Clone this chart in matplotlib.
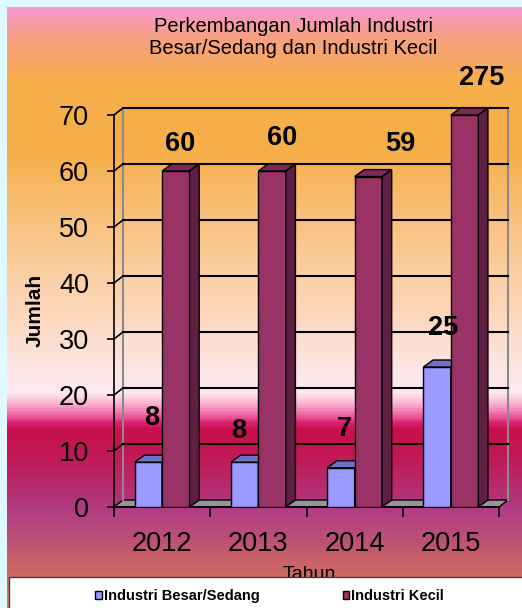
import numpy as np
import matplotlib
matplotlib.use('Agg')
import matplotlib.pyplot as plt
from matplotlib.colors import LinearSegmentedColormap
from matplotlib.patches import Polygon, Rectangle, Patch

plt.rcParams['font.family'] = ['Liberation Sans', 'DejaVu Sans']

# Data
tahun = ['2012', '2013', '2014', '2015']
besar_sedang = [8, 8, 7, 25]
kecil = [60, 60, 59, 275]
seri = ['Industri Besar/Sedang', 'Industri Kecil']
yticks = [0, 10, 20, 30, 40, 50, 60, 70]

# label nudges (data units), labels were dragged by hand in the original
besar_dx = [0.03, -0.06, 0.04, 0.06]
besar_dy = [7.9, 5.6, 6.9, 7.0]
kecil_dx = [0.04, 0.10, 0.33, 0.18]
kecil_dy = [4.8, 5.9, 5.8, 6.6]

W, H = 522, 608
fig = plt.figure(figsize=(W / 100, H / 100), dpi=100)
fig.patch.set_facecolor('#e0f8ff')

# background gradient of the chart area (pixel row, colour)
stops = [(7, '#f89ad0'), (35, '#f6a084'), (80, '#f6ae4a'), (150, '#f6ae48'),
         (200, '#f8bc70'), (270, '#fbcea0'), (320, '#fcd8c0'), (370, '#fde6e6'),
         (393, '#fee8f2'), (400, '#fcc8dc'), (408, '#f898c4'), (416, '#f060a0'),
         (424, '#d82070'), (430, '#c8104c'), (460, '#c01a58'), (495, '#b53074'),
         (510, '#b03c84'), (540, '#bb5078'), (560, '#c86068'), (608, '#d87a5c')]
cmap = LinearSegmentedColormap.from_list(
    'bg', [((y - 7) / (H - 7), c) for y, c in stops])
bg = fig.add_axes([7 / W, 0, (W - 7) / W, (H - 7) / H], zorder=-1)
bg.imshow(np.linspace(0, 1, 601).reshape(-1, 1), aspect='auto', cmap=cmap)
bg.axis('off')

# Main axes
ax = fig.add_axes([114 / W, 1 - 507 / H, 385 / W, 392 / H])
ax.set_facecolor('none')
ymax = 70
ax.set_xlim(0, 4)
ax.set_ylim(0, ymax)

# 3D depth in data units
ddx = 9 / 96.25
ddy = 7 / 5.6
n = len(tahun)

# floor
ax.add_patch(Polygon([(0, 0), (n, 0), (n + ddx, ddy), (ddx, ddy)], closed=True,
                     facecolor='#969696', edgecolor='black', lw=1, zorder=1, clip_on=False))
# back wall edges
ax.plot([ddx, ddx], [ddy, ymax + ddy], color='#8a8a8a', lw=1.5, zorder=1, clip_on=False)
ax.plot([n + ddx, n + ddx], [ddy, ymax + ddy], color='#8a8a8a', lw=1.5, zorder=1, clip_on=False)
# gridlines on the back wall + side wall
for g in yticks[1:]:
    ax.plot([ddx, n + ddx], [g + ddy, g + ddy], color='black', lw=1.5, zorder=1, clip_on=False)
    ax.plot([0, ddx], [g, g + ddy], color='black', lw=1.2, zorder=1, clip_on=False)

x = np.arange(n) + 0.5
w = 0.285
bdx = 0.1

def bars3d(left, vals, front, top, side):
    v = np.minimum(vals, ymax)
    ax.bar(left, v, width=w, align='edge', color=front, edgecolor='black', lw=1, zorder=3)
    for xl, h in zip(left, v):
        xr = xl + w
        ax.add_patch(Polygon([(xl, h), (xr, h), (xr + bdx, h + ddy), (xl + bdx, h + ddy)],
                             closed=True, facecolor=top, edgecolor='black', lw=1,
                             zorder=3, clip_on=False))
        ax.add_patch(Polygon([(xr, 0), (xr + bdx, ddy), (xr + bdx, h + ddy), (xr, h)],
                             closed=True, facecolor=side, edgecolor='black', lw=1,
                             zorder=3, clip_on=False))

bars3d(x - w, besar_sedang, '#9999ff', '#7070c8', '#4d4d99')
bars3d(x, kecil, '#993366', '#7a2a55', '#5e1f42')

# value labels
for i in range(n):
    ax.text(x[i] - w / 2 + besar_dx[i], min(besar_sedang[i], ymax) + besar_dy[i],
            str(besar_sedang[i]), ha='center', va='center', fontsize=19.5,
            fontweight='bold', zorder=6, clip_on=False)
    ax.text(x[i] + w / 2 + kecil_dx[i], min(kecil[i], ymax) + kecil_dy[i],
            str(kecil[i]), ha='center', va='center', fontsize=19.5,
            fontweight='bold', zorder=6, clip_on=False)

# axes styling
for s in ['top', 'right']:
    ax.spines[s].set_visible(False)
ax.spines['left'].set_linewidth(1.2)
ax.spines['bottom'].set_linewidth(1.2)
ax.set_xticks(range(n + 1))
ax.set_xticklabels([])
ax.set_xticks(x, minor=True)
ax.set_xticklabels(tahun, minor=True)
ax.tick_params(axis='x', which='major', length=7, width=1.2, direction='out')
ax.tick_params(axis='x', which='minor', length=0, pad=17, labelsize=19.5)
ax.set_yticks(yticks)
ax.tick_params(axis='y', length=5, width=1.2, pad=13, labelsize=19.5)

# titles
fig.text(293 / W, 1 - 37 / H, 'Perkembangan Jumlah Industri\nBesar/Sedang dan Industri Kecil',
         ha='center', va='center', fontsize=14.5, linespacing=1.2)
fig.text(35 / W, 1 - 310 / H, 'Jumlah', rotation=90, ha='center', va='center',
         fontsize=15, fontweight='bold')
fig.text(309 / W, 1 - 579 / H, 'Tahun', ha='center', va='baseline', fontsize=14, zorder=3)

# legend box
fig.patches.append(Rectangle((9 / W, -0.05), 1.0, 0.05 + 31 / H, transform=fig.transFigure,
                             facecolor='white', edgecolor='#404040', lw=1, zorder=4))
handles = [Patch(facecolor='#9999ff', edgecolor='black', lw=1),
           Patch(facecolor='#993366', edgecolor='black', lw=1)]
leg = fig.legend(handles, seri, loc='center left', bbox_to_anchor=(95 / W, 1 - 596 / H),
                 ncol=2, frameon=False, borderpad=0, borderaxespad=0,
                 handlelength=0.45, handleheight=0.45, handletextpad=0.15,
                 columnspacing=5.7, prop={'size': 10.5, 'weight': 'bold'})
leg.set_zorder(5)

fig.savefig('out.png', dpi=100, facecolor=fig.get_facecolor())
